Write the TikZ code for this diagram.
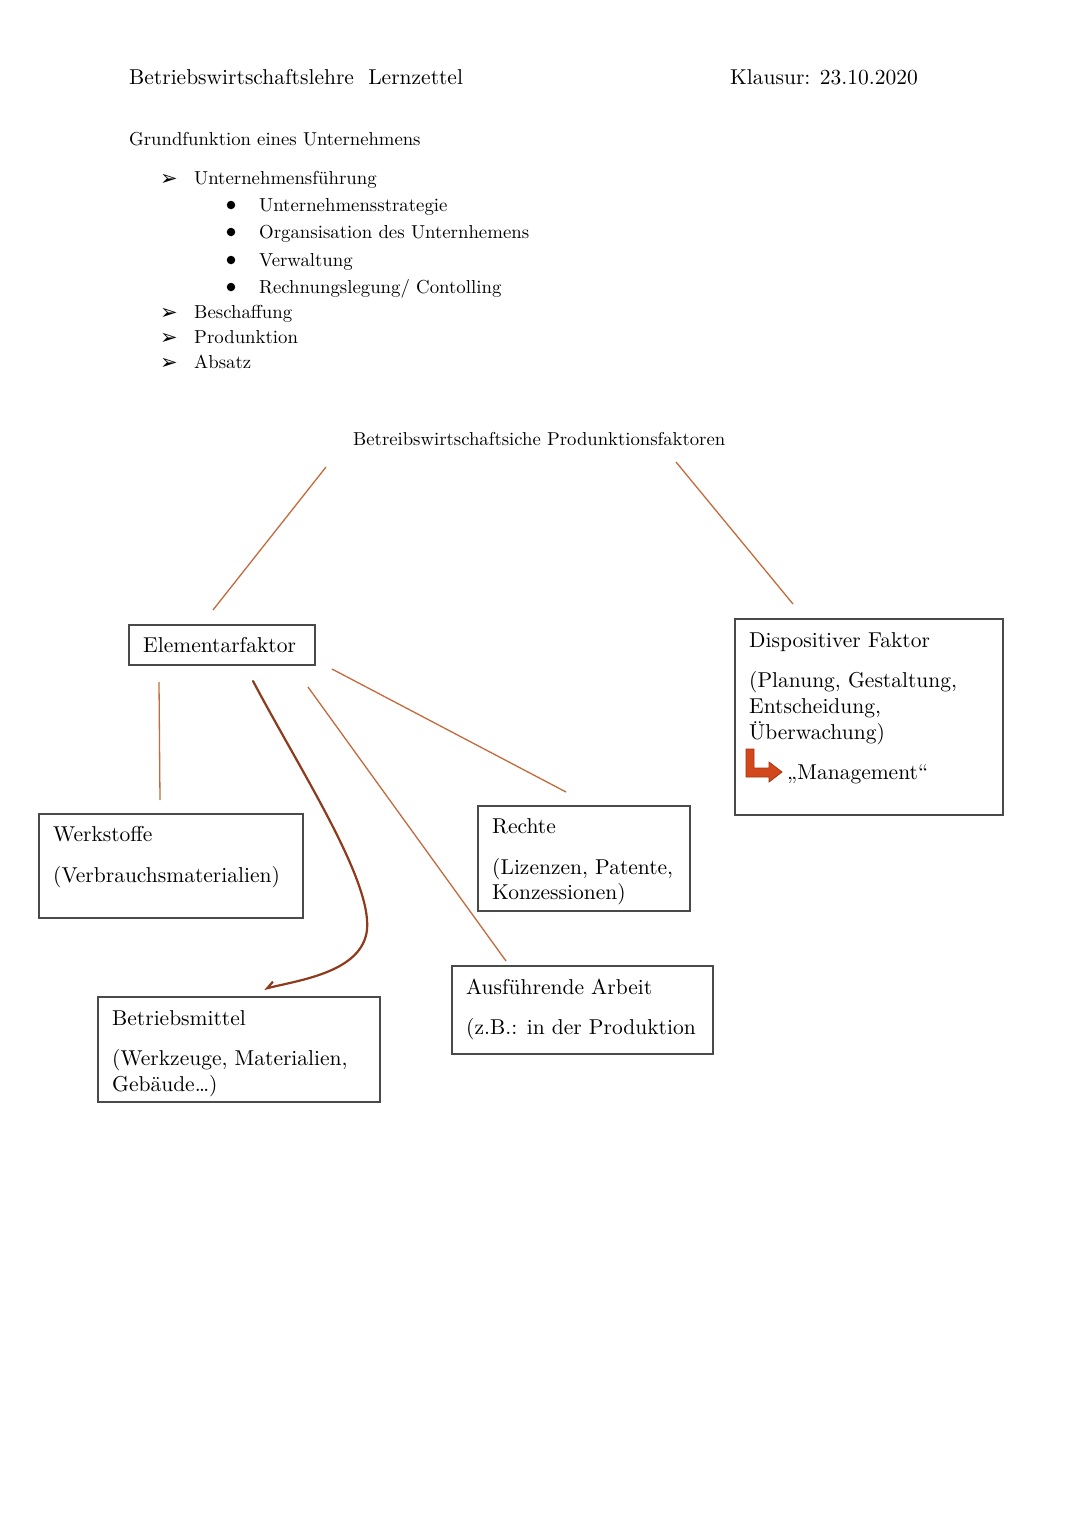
\documentclass[tikz,border=0pt]{standalone}
\usepackage{fontspec}
\usetikzlibrary{arrows.meta}
\newfontfamily\dejavu{DejaVu Sans}
\newfontfamily\lmten{lmroman10-regular.otf}
\definecolor{linebrown}{HTML}{C46A3C}
\definecolor{curvebrown}{HTML}{8E3A1C}
\definecolor{boxgray}{HTML}{4A4A4A}
\definecolor{mgmtred}{HTML}{D2481C}
\definecolor{mgmtedge}{HTML}{A83410}
\tikzset{
  big/.style={font=\lmten\fontsize{21.5}{26}\selectfont, anchor=base west, inner sep=0pt},
  mid/.style={font=\lmten\fontsize{18.7}{22}\selectfont, anchor=base west, inner sep=0pt},
  lst/.style={font=\lmten\fontsize{18.8}{22}\selectfont, anchor=base west, inner sep=0pt},
  arrowbullet/.style={font=\dejavu\fontsize{21}{24}\selectfont, anchor=base west, inner sep=0pt},
  dotbullet/.style={circle, fill=black, inner sep=0pt, minimum size=8.5pt},
  boxshape/.style={draw=boxgray, line width=1.2pt, rectangle, inner sep=0pt},
  thinlink/.style={draw=linebrown, line width=1.3pt},
  curvelink/.style={draw=curvebrown, line width=2.2pt, line cap=round},
}
\begin{document}
\begin{tikzpicture}[x=1pt,y=-1pt]
\useasboundingbox[fill=white] (0,0) rectangle (1080,1527);

% header
\node[big] (head) at (129,84) {Betriebswirtschaftslehre\ \ Lernzettel};
\node[big] (klausur) at (730,84) {Klausur: 23.10.2020};

\node[mid] (grund) at (129,145) {Grundfunktion eines Unternehmens};

% list
\node[arrowbullet] (a1) at (160,185) {➢};
\node[lst] (l1) at (194,184) {Unternehmensführung};
\node[dotbullet] (b1) at (231,205) {};
\node[lst] (s1) at (259,211) {Unternehmensstrategie};
\node[dotbullet] (b2) at (231,232) {};
\node[lst] (s2) at (259,238) {Organsisation des Unternhemens};
\node[dotbullet] (b3) at (231,260) {};
\node[lst] (s3) at (259,266) {Verwaltung};
\node[dotbullet] (b4) at (231,287) {};
\node[lst] (s4) at (259,293) {Rechnungslegung/ Contolling};
\node[arrowbullet] (a2) at (160,319) {➢};
\node[lst] (l2) at (194,318) {Beschaffung};
\node[arrowbullet] (a3) at (160,344) {➢};
\node[lst] (l3) at (194,343) {Produnktion};
\node[arrowbullet] (a4) at (160,369) {➢};
\node[lst] (l4) at (194,368) {Absatz};

% title
\node[mid] (title) at (353,445) {Betreibswirtschaftsiche Produnktionsfaktoren};

% boxes
\node[boxshape, minimum width=186pt, minimum height=40pt] (elem) at (222,645) {};
\node[big] (elemT) at (143,652) {Elementarfaktor};

\node[boxshape, minimum width=268pt, minimum height=196pt] (disp) at (869,717) {};
\node[big] (dispT1) at (749,647) {Dispositiver Faktor};
\node[big] (dispT2) at (749,687) {(Planung, Gestaltung,};
\node[big] (dispT3) at (749,713) {Entscheidung,};
\node[big] (dispT4) at (749,739) {Überwachung)};
\node[big] (dispT5) at (787,779) {„Management“};
\fill[mgmtred, draw=mgmtedge, line width=0.8pt]
  (746,749) -- (754,749) -- (754,768) -- (769,768) -- (769,762) -- (782,772)
  -- (769,782) -- (769,777) -- (746,777) -- cycle;

\node[boxshape, minimum width=264pt, minimum height=104pt] (werk) at (171,866) {};
\node[big] (werkT1) at (53,841) {Werkstoffe};
\node[big] (werkT2) at (53,882) {(Verbrauchsmaterialien)};

\node[boxshape, minimum width=212pt, minimum height=105pt] (recht) at (584,858.5) {};
\node[big] (rechtT1) at (492,833) {Rechte};
\node[big] (rechtT2) at (492,874) {(Lizenzen, Patente,};
\node[big] (rechtT3) at (492,899) {Konzessionen)};

\node[boxshape, minimum width=261pt, minimum height=88pt] (arbeit) at (582.5,1010) {};
\node[big] (arbT1) at (466,994) {Ausführende Arbeit};
\node[big] (arbT2) at (466,1034) {(z.B.: in der Produktion};

\node[boxshape, minimum width=282pt, minimum height=105pt] (mittel) at (239,1049.5) {};
\node[big] (mitT1) at (112,1025) {Betriebsmittel};
\node[big] (mitT2) at (112,1065) {(Werkzeuge, Materialien,};
\node[big] (mitT3) at (112,1091) {Gebäude…)};

% connector end points
\coordinate (tl1) at (326,467);
\coordinate (tl2) at (213,610);
\coordinate (tr1) at (676,462);
\coordinate (tr2) at (793,604);
\coordinate (e1a) at (159,682);
\coordinate (e1b) at (160,800);
\coordinate (e2a) at (253,681);
\coordinate (e2m) at (367,930);
\coordinate (e2b) at (264,989);
\coordinate (e3a) at (308,687);
\coordinate (e3b) at (506,961);
\coordinate (e4a) at (332,669);
\coordinate (e4b) at (566,792);

\draw[thinlink] (tl1) -- (tl2);
\draw[thinlink] (tr1) -- (tr2);
\draw[thinlink] (e1a) -- (e1b);
\draw[thinlink] (e3a) -- (e3b);
\draw[thinlink] (e4a) -- (e4b);
\draw[curvelink, -{Straight Barb[harpoon, swap, length=7pt, width=10pt]}]
  (e2a) .. controls (300,770) and (372,880) .. (e2m)
  .. controls (362,972) and (300,980) .. (e2b);
\end{tikzpicture}
\end{document}
